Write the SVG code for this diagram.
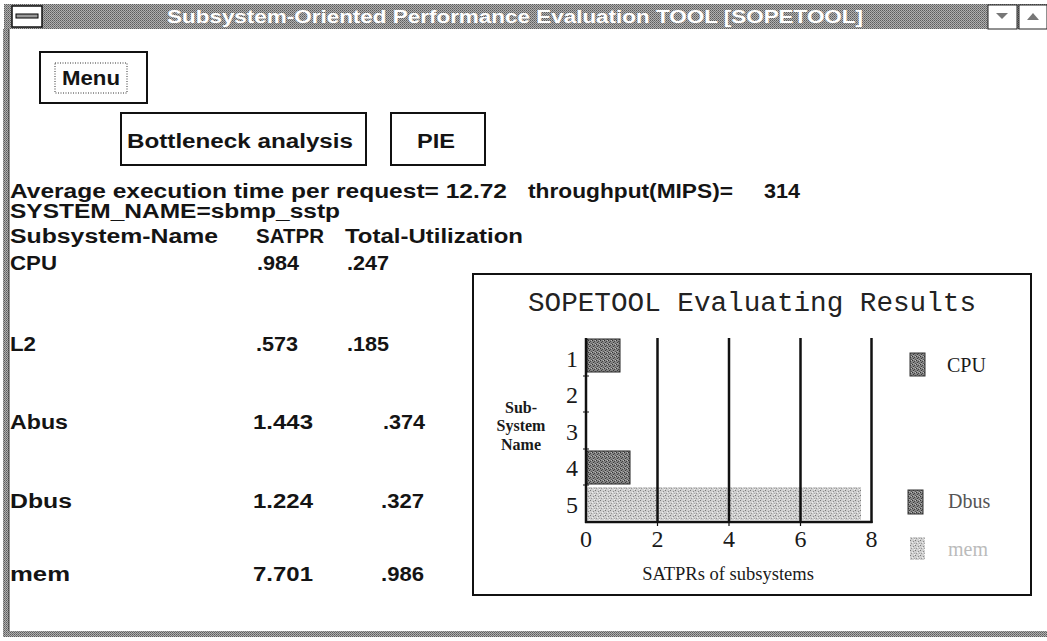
<svg xmlns="http://www.w3.org/2000/svg" width="1047" height="641" viewBox="0 0 1047 641">
<defs>
  <pattern id="dither" width="2" height="2" patternUnits="userSpaceOnUse">
    <rect width="2" height="2" fill="#b0b0b0"/>
    <rect width="1" height="1" fill="#5c5c5c"/>
    <rect x="1" y="1" width="1" height="1" fill="#767676"/>
  </pattern>
  <pattern id="darkfill" width="4" height="4" patternUnits="userSpaceOnUse">
    <rect width="4" height="4" fill="#858585"/>
    <rect x="0" y="0" width="1" height="1" fill="#333"/>
    <rect x="2" y="1" width="1" height="1" fill="#444"/>
    <rect x="1" y="2" width="1" height="1" fill="#3a3a3a"/>
    <rect x="3" y="3" width="1" height="1" fill="#555"/>
    <rect x="3" y="0" width="1" height="1" fill="#bbb"/>
    <rect x="1" y="3" width="1" height="1" fill="#aaa"/>
  </pattern>
  <pattern id="lightfill" width="5" height="5" patternUnits="userSpaceOnUse">
    <rect width="5" height="5" fill="#cfcfcf"/>
    <rect x="0" y="0" width="1" height="1" fill="#7a7a7a"/>
    <rect x="3" y="1" width="1" height="1" fill="#8c8c8c"/>
    <rect x="1" y="3" width="1" height="1" fill="#959595"/>
    <rect x="4" y="3" width="1" height="1" fill="#a8a8a8"/>
    <rect x="4" y="4" width="1" height="1" fill="#f4f4f4"/>
    <rect x="2" y="2" width="1" height="1" fill="#eee"/>
  </pattern>
</defs>
<style>
 .ui{font-family:"Liberation Sans",Arial,sans-serif;font-weight:bold;font-size:20px;fill:#141414}
 .ttl{font-family:"Liberation Sans",Arial,sans-serif;font-weight:bold;font-size:18px;fill:#fff}
 .mono{font-family:"Liberation Mono","Courier New",monospace;font-size:27px;fill:#222}
 .ser{font-family:"Liberation Serif","Times New Roman",serif;fill:#1a1a1a}
 .btn{fill:#fff;stroke:#111;stroke-width:2}
 .grid{stroke:#111;stroke-width:2.5}
 .frame{fill:url(#dither)}
</style>
<rect width="1047" height="641" fill="#fff"/>

<g id="window-frame">
  <rect class="frame" x="4" y="4" width="1043" height="25"/>
  <rect class="frame" x="3" y="29" width="6" height="608"/>
  <line x1="9" y1="29" x2="9" y2="632" stroke="#333" stroke-width="1"/>
  <rect class="frame" x="3" y="631" width="1044" height="6"/>
  <rect x="12" y="6" width="30" height="21" fill="#fff" stroke="#111" stroke-width="1.5"/>
  <rect x="16" y="14" width="22" height="4" fill="#999" stroke="#000" stroke-width="1"/>
  <text class="ttl" x="167" y="23" textLength="696" lengthAdjust="spacingAndGlyphs">Subsystem-Oriented Performance Evaluation TOOL [SOPETOOL]</text>
  <rect x="988" y="5" width="29" height="24" fill="#fff" stroke="#222" stroke-width="1"/>
  <polygon points="996,13 1008,13 1002,19" fill="#777"/>
  <rect x="1019" y="5" width="28" height="24" fill="#fff" stroke="#222" stroke-width="1"/>
  <polygon points="1027,20 1039,20 1033,13" fill="#777"/>
</g>

<g id="menu-button">
  <rect class="btn" x="40" y="52" width="107" height="51"/>
  <rect x="55" y="63" width="72" height="30" fill="none" stroke="#333" stroke-width="1" stroke-dasharray="1 1.5"/>
  <text class="ui" x="62" y="85" textLength="58" lengthAdjust="spacingAndGlyphs">Menu</text>
</g>

<g id="bottleneck-button">
  <rect class="btn" x="121" y="113" width="245" height="52"/>
  <text class="ui" x="127" y="148" textLength="226" lengthAdjust="spacingAndGlyphs">Bottleneck analysis</text>
</g>

<g id="pie-button">
  <rect class="btn" x="391" y="113" width="94" height="52"/>
  <text class="ui" x="417" y="148" textLength="38" lengthAdjust="spacingAndGlyphs">PIE</text>
</g>

<g id="results-text">
  <text class="ui" x="10" y="198" textLength="497" lengthAdjust="spacingAndGlyphs">Average execution time per request= 12.72</text>
  <text class="ui" x="528" y="198" textLength="205" lengthAdjust="spacingAndGlyphs">throughput(MIPS)=</text>
  <text class="ui" x="764" y="198" textLength="36" lengthAdjust="spacingAndGlyphs">314</text>
  <text class="ui" x="10" y="218" textLength="330" lengthAdjust="spacingAndGlyphs">SYSTEM_NAME=sbmp_sstp</text>
  <text class="ui" x="10" y="243" textLength="208" lengthAdjust="spacingAndGlyphs">Subsystem-Name</text>
  <text class="ui" x="256" y="243" textLength="68" lengthAdjust="spacingAndGlyphs">SATPR</text>
  <text class="ui" x="345" y="243" textLength="178" lengthAdjust="spacingAndGlyphs">Total-Utilization</text>

  <text class="ui" x="10" y="270" textLength="47" lengthAdjust="spacingAndGlyphs">CPU</text>
  <text class="ui" x="257" y="270" textLength="42" lengthAdjust="spacingAndGlyphs">.984</text>
  <text class="ui" x="347" y="270" textLength="42" lengthAdjust="spacingAndGlyphs">.247</text>

  <text class="ui" x="10" y="351" textLength="26" lengthAdjust="spacingAndGlyphs">L2</text>
  <text class="ui" x="256" y="351" textLength="42" lengthAdjust="spacingAndGlyphs">.573</text>
  <text class="ui" x="347" y="351" textLength="42" lengthAdjust="spacingAndGlyphs">.185</text>

  <text class="ui" x="10" y="429" textLength="58" lengthAdjust="spacingAndGlyphs">Abus</text>
  <text class="ui" x="253" y="429" textLength="60" lengthAdjust="spacingAndGlyphs">1.443</text>
  <text class="ui" x="383" y="429" textLength="42" lengthAdjust="spacingAndGlyphs">.374</text>

  <text class="ui" x="10" y="508" textLength="62" lengthAdjust="spacingAndGlyphs">Dbus</text>
  <text class="ui" x="253" y="508" textLength="60" lengthAdjust="spacingAndGlyphs">1.224</text>
  <text class="ui" x="381" y="508" textLength="43" lengthAdjust="spacingAndGlyphs">.327</text>

  <text class="ui" x="10" y="581" textLength="60" lengthAdjust="spacingAndGlyphs">mem</text>
  <text class="ui" x="253" y="581" textLength="60" lengthAdjust="spacingAndGlyphs">7.701</text>
  <text class="ui" x="381" y="581" textLength="43" lengthAdjust="spacingAndGlyphs">.986</text>
</g>

<g id="chart">
  <rect x="473" y="274" width="558" height="321" fill="#fff" stroke="#111" stroke-width="2"/>
  <text class="mono" x="752" y="311" text-anchor="middle" textLength="448" lengthAdjust="spacingAndGlyphs">SOPETOOL Evaluating Results</text>

  <g id="chart-bars">
    <rect x="587" y="339" width="33" height="33" fill="url(#darkfill)" stroke="#222" stroke-width="1"/>
    <rect x="587" y="451" width="43" height="33" fill="url(#darkfill)" stroke="#222" stroke-width="1"/>
    <rect x="587" y="487" width="274" height="33" fill="url(#lightfill)"/>
  </g>

  <g id="chart-axes">
    <line class="grid" x1="657.5" y1="338" x2="657.5" y2="522"/>
    <line class="grid" x1="729" y1="338" x2="729" y2="522"/>
    <line class="grid" x1="800.5" y1="338" x2="800.5" y2="522"/>
    <line class="grid" x1="871.5" y1="338" x2="871.5" y2="523"/>
    <line class="grid" x1="586" y1="338" x2="586" y2="523"/>
    <line class="grid" x1="585" y1="522" x2="872.5" y2="522"/>
    <path d="M583 376H589M583 412H589M583 449H589M583 485H589M657.5 522V526M729 522V526M800.5 522V526" stroke="#111" stroke-width="1.2"/>
  </g>

  <g id="chart-labels" class="ser">
    <text x="578" y="367" font-size="24" text-anchor="end">1</text>
    <text x="578" y="403" font-size="24" text-anchor="end">2</text>
    <text x="578" y="440" font-size="24" text-anchor="end">3</text>
    <text x="578" y="476" font-size="24" text-anchor="end">4</text>
    <text x="578" y="513" font-size="24" text-anchor="end">5</text>
    <text x="586" y="547" font-size="24" text-anchor="middle">0</text>
    <text x="657.5" y="547" font-size="24" text-anchor="middle">2</text>
    <text x="729" y="547" font-size="24" text-anchor="middle">4</text>
    <text x="800.5" y="547" font-size="24" text-anchor="middle">6</text>
    <text x="871.5" y="547" font-size="24" text-anchor="middle">8</text>
    <text x="728" y="580" font-size="18.5" text-anchor="middle">SATPRs of subsystems</text>
    <text x="521" y="413" font-size="16" text-anchor="middle" font-weight="bold">Sub-</text>
    <text x="521" y="431" font-size="16" text-anchor="middle" font-weight="bold">System</text>
    <text x="521" y="450" font-size="16" text-anchor="middle" font-weight="bold">Name</text>
  </g>

  <g id="chart-legend" class="ser">
    <rect x="910" y="353" width="15" height="23" fill="url(#darkfill)" stroke="#333" stroke-width="1"/>
    <text x="947" y="372" font-size="20">CPU</text>
    <rect x="908" y="490" width="15" height="24" fill="url(#darkfill)" stroke="#333" stroke-width="1"/>
    <text x="948" y="508" font-size="20" fill="#555">Dbus</text>
    <rect x="910" y="537" width="15" height="23" fill="url(#lightfill)"/>
    <text x="948" y="556" font-size="20" fill="#bbb">mem</text>
  </g>
</g>
</svg>
